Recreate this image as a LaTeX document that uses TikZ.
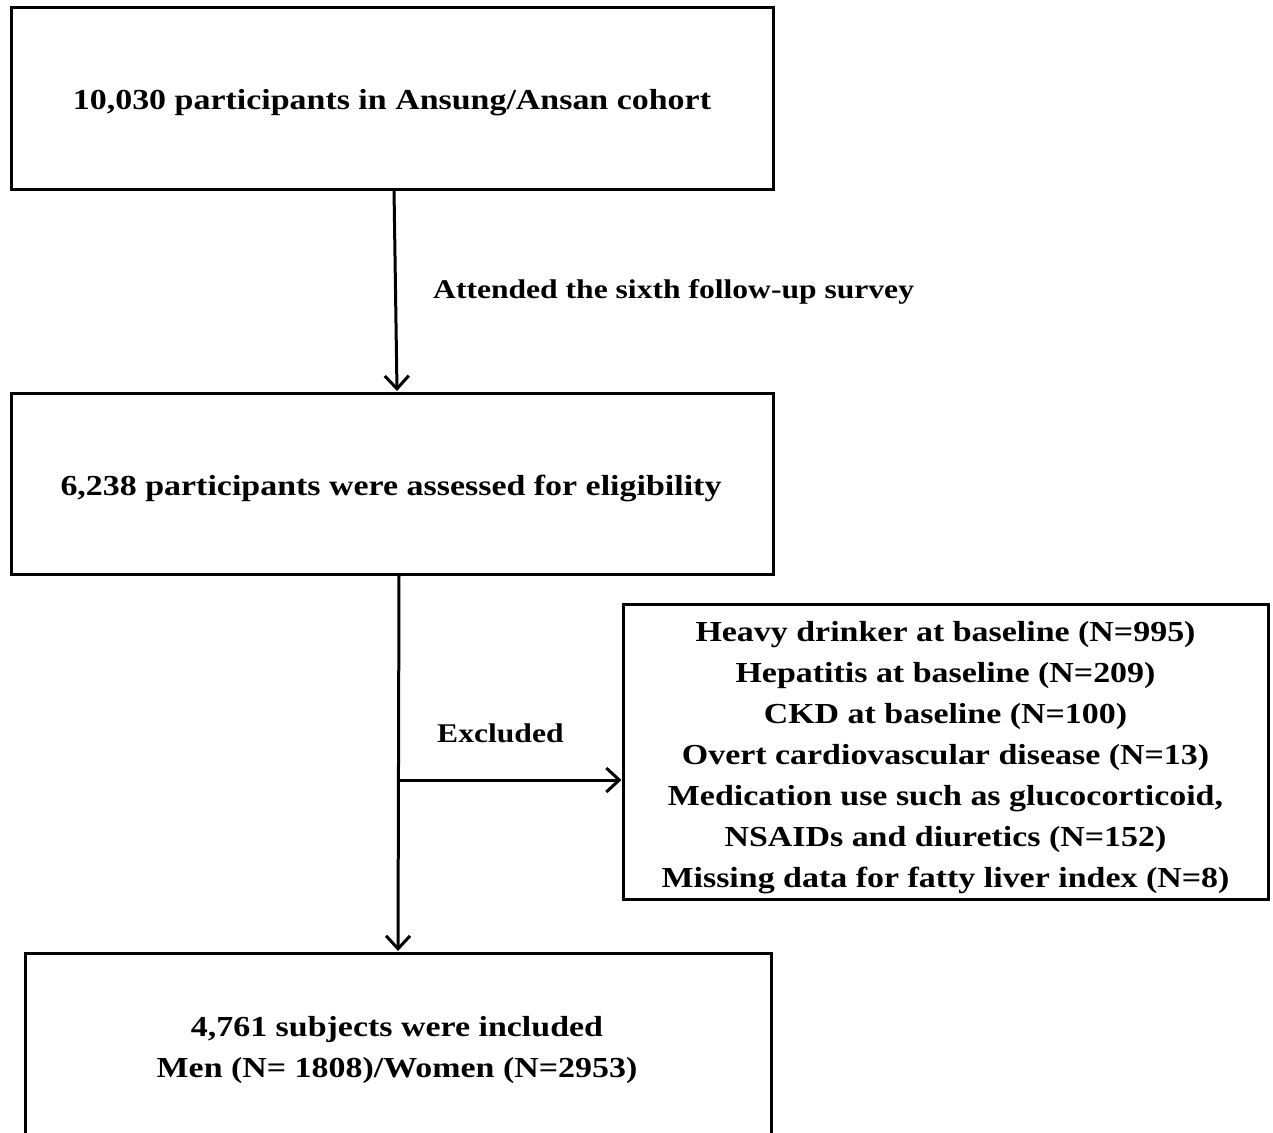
\documentclass[tikz,border=0pt]{standalone}
\usepackage{fontspec}
\setmainfont[FakeStretch=1.17]{Liberation Serif}
\usetikzlibrary{arrows.meta}
\begin{document}
\begin{tikzpicture}[x=1pt,y=-1pt,
  box/.style={draw,line width=3pt,inner sep=0pt},
  txt/.style={font=\fontsize{29}{41}\selectfont\bfseries,align=center,inner sep=0pt},
  lbl/.style={font=\fontsize{27}{32}\selectfont\bfseries,inner sep=0pt,anchor=west},
  conn/.style={line width=3pt,-{Straight Barb[length=13pt,width=24pt,line width=3pt]}}]
\useasboundingbox (0,0) rectangle (1273,1132);
\fill[white] (0,0) rectangle (1273,1132);
\node[box,minimum width=762pt,minimum height=181pt] (b1) at (392,98.5) {};
\node[txt] (t1) at (392,103) {10,030 participants in Ansung/Ansan cohort};
\node[box,minimum width=762pt,minimum height=181pt] (b2) at (392,483.5) {};
\node[txt] (t2) at (391,488) {6,238 participants were assessed for eligibility};
\node[box,minimum width=645pt,minimum height=295pt] (b4) at (945.5,751.5) {};
\node[txt] (t4) at (945.5,758) {Heavy drinker at baseline (N=995)\\Hepatitis at baseline (N=209)\\CKD at baseline (N=100)\\Overt cardiovascular disease (N=13)\\Medication use such as glucocorticoid,\\NSAIDs and diuretics (N=152)\\Missing data for fatty liver index (N=8)};
\node[box,minimum width=746pt,minimum height=200pt] (b3) at (398,1053) {};
\node[txt] (t3) at (397,1050) {4,761 subjects were included\\Men (N= 1808)/Women (N=2953)};
\node[lbl] (l1) at (433,292) {Attended the sixth follow-up survey};
\node[lbl] (l2) at (437,733) {Excluded};
\coordinate (a1) at (394,189);
\coordinate (a1e) at (397,391);
\coordinate (a2) at (399,574);
\coordinate (a2e) at (398,951);
\coordinate (h) at (399,780);
\draw[conn] (a1) -- (a1e);
\draw[conn] (a2) -- (a2e);
\draw[conn] (h) -- (b4.west |- h);
\end{tikzpicture}
\end{document}
